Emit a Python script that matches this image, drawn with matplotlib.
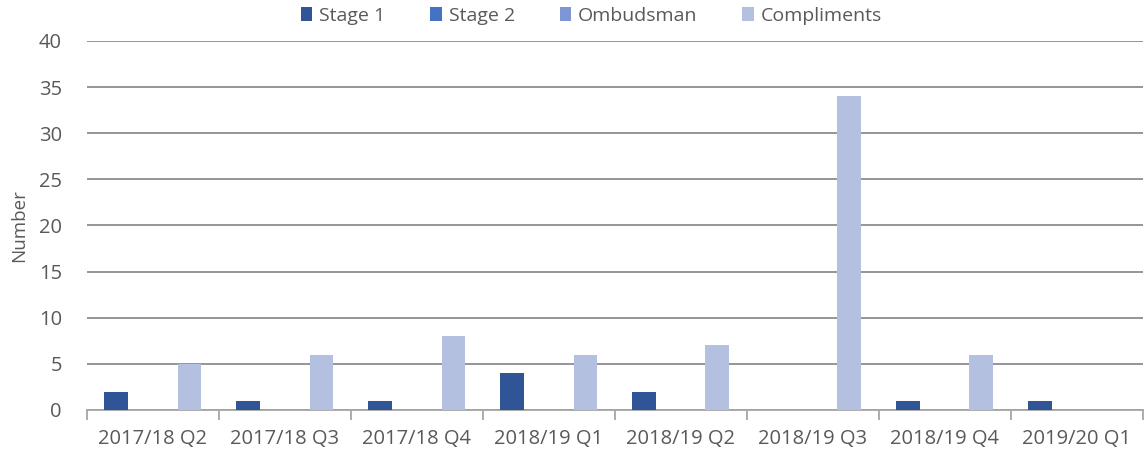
import matplotlib
matplotlib.use("Agg")
import matplotlib.pyplot as plt
import numpy as np

categories = ["2017/18 Q2", "2017/18 Q3", "2017/18 Q4", "2018/19 Q1",
              "2018/19 Q2", "2018/19 Q3", "2018/19 Q4", "2019/20 Q1"]
stage1 = [2, 1, 1, 4, 2, 0, 1, 1]
stage2 = [0, 0, 0, 0, 0, 0, 0, 0]
ombudsman = [0, 0, 0, 0, 0, 0, 0, 0]
compliments = [5, 6, 8, 6, 7, 34, 6, 0]

series_names = ["Stage 1", "Stage 2", "Ombudsman", "Compliments"]
series_values = [stage1, stage2, ombudsman, compliments]
colors = ["#2F5597", "#4472C4", "#7F96D4", "#B4C0E0"]

plt.rcParams['font.family'] = ['Open Sans', 'DejaVu Sans']
text_color = "#595959"

fig = plt.figure(figsize=(11.46, 4.59), dpi=100)
ax = fig.add_axes([0.0759, 0.1068, 0.9211, 0.8039])

x = np.arange(len(categories))
step = 0.185
width = 0.18
for i, (name, vals, c) in enumerate(zip(series_names, series_values, colors)):
    ax.bar(x + (i - 1.5) * step, vals, width, color=c, label=name, zorder=3)

ax.set_xlim(-0.5, len(categories) - 0.5)
ax.set_ylim(0, 40)
ax.set_yticks(range(0, 41, 5))
ax.yaxis.grid(True, color="#8C8C8C", linewidth=1.3, zorder=0)
ax.set_axisbelow(True)
for s in ["top", "right", "left"]:
    ax.spines[s].set_visible(False)
ax.spines["bottom"].set_color("#A6A6A6")
ax.spines["bottom"].set_linewidth(1.3)

ax.set_xticks(x)
ax.set_xticklabels(categories, fontsize=14.5, color=text_color)
ax.tick_params(axis='x', length=0, pad=14)
ax.set_xticks(np.arange(-0.5, len(categories), 1), minor=True)
ax.tick_params(axis='x', which='minor', length=7, color="#A6A6A6", width=1.3)
ax.tick_params(axis='y', length=0, labelsize=14.5, labelcolor=text_color, pad=18)
ax.set_ylabel("Number", fontsize=13.5, color=text_color, labelpad=8)

leg = fig.legend(loc="center", bbox_to_anchor=(0.516, 0.965), ncol=4, frameon=False,
                 fontsize=14, labelcolor=text_color, handlelength=0.6, handleheight=0.7,
                 handletextpad=0.35, columnspacing=2.3)

fig.savefig("out.png", dpi=100)
